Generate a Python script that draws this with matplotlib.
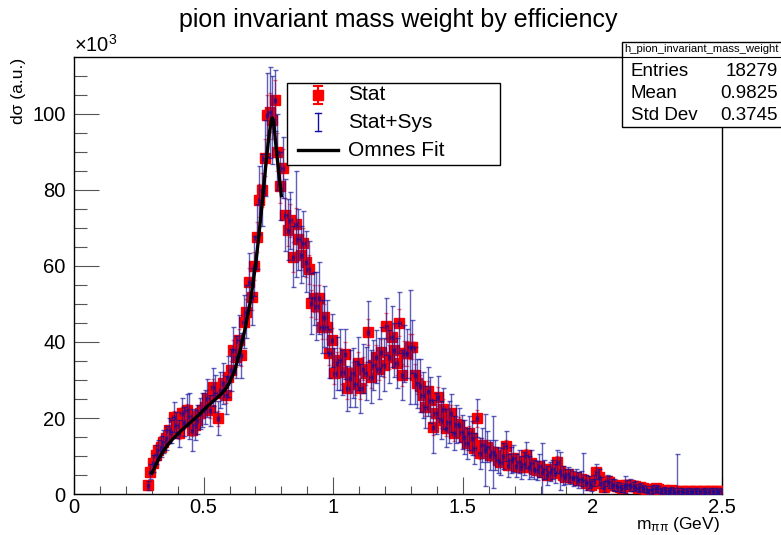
import numpy as np
import matplotlib
matplotlib.use("Agg")
import matplotlib.pyplot as plt
from matplotlib.patches import Rectangle
from matplotlib.lines import Line2D

plt.rcParams['font.family'] = ['Liberation Sans', 'DejaVu Sans']
plt.rcParams['mathtext.fontset'] = 'custom'
plt.rcParams['mathtext.rm'] = 'Liberation Sans'
plt.rcParams['mathtext.it'] = 'Liberation Sans:italic'

# ---- histogram definition (bin width 0.01 GeV, first bin 0.28-0.29) ----
bin_width = 0.01
first_center = 0.285

# ---- counts (x10^3) per bin, rows by 0.1 GeV ----
y_028 = [2.3, 5.9]
y_03 = [8.1, 10.3, 11.6, 12.5, 13.8, 14.7, 16.8, 16.4, 20.3, 18.2]
y_04 = [16.0, 21.2, 19.0, 22.1, 20.5, 16.8, 18.2, 19.5, 21.2, 22.1]
y_05 = [23.0, 25.2, 22.0, 28.2, 26.5, 19.9, 27.4, 29.1, 26.0, 30.9]
y_06 = [32.6, 37.9, 36.1, 40.5, 36.5, 45.3, 48.0, 55.9, 51.9, 60.0]
y_07 = [67.7, 77.3, 80.0, 88.5, 99.7, 100.4, 98.4, 103.6, 90.0, 81.1]
y_08 = [85.9, 73.4, 69.5, 72.0, 62.4, 71.0, 67.0, 62.9, 66.0, 61.1]
y_09 = [59.1, 50.2, 51.5, 49.5, 51.5, 44.0, 46.7, 44.0, 37.0, 40.5]
y_10 = [31.8, 34.4, 35.3, 32.0, 36.8, 27.8, 30.5, 31.8, 29.0, 34.4]
y_11 = [27.8, 33.0, 31.8, 42.7, 30.9, 34.0, 36.1, 33.0, 37.5, 34.0]
y_12 = [44.2, 36.1, 41.4, 37.9, 34.5, 45.1, 31.3, 37.0, 37.0, 38.8]
y_13 = [38.8, 31.2, 29.1, 28.5, 26.0, 23.0, 27.0, 24.7, 17.7, 21.2]
y_14 = [25.6, 19.5, 22.5, 17.3, 19.0, 21.2, 16.0, 18.5, 18.2, 16.4]
y_15 = [15.0, 13.3, 16.0, 14.7, 12.0, 19.9, 10.7, 13.0, 11.6, 12.5]
y_16 = [10.3, 11.0, 10.3, 9.0, 8.5, 10.0, 12.6, 7.6, 9.0, 9.4]
y_17 = [7.5, 8.5, 7.0, 8.0, 10.3, 7.0, 8.1, 6.5, 6.3, 7.5]
y_18 = [5.9, 6.5, 5.0, 5.9, 6.5, 5.5, 8.5, 6.0, 5.0, 4.6]
y_19 = [5.2, 4.6, 4.1, 4.5, 3.7, 4.0, 3.7, 3.0, 3.2, 2.4]
y_20 = [3.5, 5.9, 4.5, 3.0, 1.9, 3.5, 3.2, 2.5, 2.4, 2.0]
y_21 = [1.8, 1.5, 2.5, 2.4, 2.4, 2.0, 2.2, 1.6, 1.9, 1.5]
y_22 = [1.2, 0.6, 1.0, 1.3, 1.5, 1.2, 0.9, 1.1, 0.9, 0.8]
y_23 = [1.0, 0.7, 0.6, 0.9, 0.7, 0.6, 0.8, 0.7, 0.6, 0.9]
y_24 = [0.7, 0.6, 0.8, 0.7, 0.6, 0.8, 0.9, 0.7, 0.6, 0.8]

# ---- statistical errors (x10^3) ----
s_028 = [0.8, 1.0]
s_03 = [1.0, 1.1, 1.2, 1.2, 1.3, 1.3, 1.4, 1.4, 1.5, 1.5]
s_04 = [1.5, 1.6, 1.6, 1.7, 1.6, 1.6, 1.7, 1.7, 1.8, 1.8]
s_05 = [1.9, 1.9, 1.9, 2.1, 2.0, 1.9, 2.1, 2.2, 2.1, 2.3]
s_06 = [2.4, 2.6, 2.6, 2.8, 2.7, 3.0, 3.2, 3.5, 3.4, 3.7]
s_07 = [4.0, 4.4, 4.5, 4.8, 5.2, 5.2, 5.1, 5.4, 5.0, 4.6]
s_08 = [4.8, 4.4, 4.2, 4.3, 4.0, 4.3, 4.1, 3.9, 4.0, 3.9]
s_09 = [3.8, 3.5, 3.6, 3.5, 3.6, 3.3, 3.4, 3.3, 3.0, 3.2]
s_10 = [2.9, 3.0, 3.1, 3.0, 3.2, 2.8, 2.9, 3.0, 2.9, 3.1]
s_11 = [2.8, 3.0, 3.0, 3.4, 2.9, 3.1, 3.2, 3.0, 3.2, 3.1]
s_12 = [3.5, 3.2, 3.4, 3.2, 3.1, 3.5, 2.9, 3.2, 3.2, 3.3]
s_13 = [3.3, 2.9, 2.8, 2.7, 2.6, 2.5, 2.7, 2.5, 2.2, 2.4]
s_14 = [2.5, 2.2, 2.4, 2.1, 2.2, 2.3, 2.0, 2.1, 2.1, 2.0]
s_15 = [1.9, 1.8, 2.0, 1.9, 1.7, 2.2, 1.6, 1.8, 1.7, 1.7]
s_16 = [1.6, 1.6, 1.6, 1.5, 1.4, 1.5, 1.7, 1.3, 1.4, 1.5]
s_17 = [1.3, 1.4, 1.3, 1.4, 1.5, 1.3, 1.4, 1.2, 1.2, 1.3]
s_18 = [1.2, 1.2, 1.1, 1.2, 1.2, 1.1, 1.4, 1.2, 1.1, 1.0]
s_19 = [1.1, 1.0, 1.0, 1.0, 0.9, 1.0, 0.9, 0.8, 0.9, 0.8]
s_20 = [0.9, 1.2, 1.0, 0.8, 0.7, 0.9, 0.9, 0.8, 0.8, 0.7]
s_21 = [0.7, 0.6, 0.8, 0.8, 0.8, 0.7, 0.7, 0.6, 0.7, 0.6]
s_22 = [0.5, 0.4, 0.5, 0.5, 0.6, 0.5, 0.5, 0.5, 0.5, 0.4]
s_23 = [0.5, 0.4, 0.4, 0.5, 0.4, 0.4, 0.4, 0.4, 0.4, 0.5]
s_24 = [0.4, 0.4, 0.4, 0.4, 0.4, 0.4, 0.5, 0.4, 0.4, 0.4]

# ---- stat+sys errors (x10^3) ----
t_028 = [1.2, 2.0]
t_03 = [2.2, 2.5, 2.6, 2.8, 3.0, 3.2, 3.3, 3.0, 4.0, 3.5]
t_04 = [3.5, 4.0, 3.8, 4.2, 6.0, 5.5, 4.0, 3.8, 4.0, 4.5]
t_05 = [4.5, 5.0, 4.0, 5.0, 4.8, 4.5, 4.8, 5.5, 5.0, 5.5]
t_06 = [5.5, 6.0, 5.5, 6.5, 6.0, 7.0, 7.0, 7.5, 7.5, 8.0]
t_07 = [8.5, 9.0, 9.5, 10.0, 11.0, 12.0, 11.5, 8.0, 10.0, 9.0]
t_08 = [8.0, 9.5, 8.0, 7.5, 8.0, 14.0, 8.0, 7.5, 8.5, 8.0]
t_09 = [7.5, 8.0, 7.0, 9.0, 9.5, 7.0, 8.0, 7.0, 6.5, 7.0]
t_10 = [6.5, 7.0, 8.0, 6.0, 6.5, 6.0, 7.5, 6.5, 6.0, 7.0]
t_11 = [6.5, 6.5, 7.0, 8.0, 7.0, 6.5, 7.0, 8.0, 6.5, 7.0]
t_12 = [7.5, 7.0, 8.0, 7.0, 6.5, 8.0, 6.5, 7.5, 6.5, 15.0]
t_13 = [7.0, 7.5, 6.5, 7.0, 6.0, 5.5, 6.5, 6.0, 7.0, 5.5]
t_14 = [5.5, 5.0, 5.5, 5.0, 5.5, 5.0, 4.5, 5.0, 4.5, 4.5]
t_15 = [4.5, 4.0, 4.5, 4.5, 4.0, 5.0, 4.0, 4.5, 9.5, 4.0]
t_16 = [4.0, 9.5, 4.0, 3.5, 3.5, 3.5, 4.0, 3.0, 3.5, 3.5]
t_17 = [3.0, 3.0, 3.0, 3.0, 3.5, 3.0, 3.5, 2.5, 2.5, 3.0]
t_18 = [7.5, 2.5, 2.5, 2.5, 2.5, 2.5, 3.0, 5.0, 2.5, 2.0]
t_19 = [2.0, 2.0, 2.0, 2.0, 2.0, 2.0, 7.0, 2.0, 1.5, 1.5]
t_20 = [1.5, 2.0, 2.0, 1.5, 1.5, 1.5, 1.5, 1.5, 1.5, 1.2]
t_21 = [1.2, 1.0, 2.3, 1.2, 1.5, 1.2, 1.2, 1.0, 1.0, 1.0]
t_22 = [1.0, 0.8, 1.0, 1.0, 1.0, 1.0, 0.8, 0.8, 0.8, 0.8]
t_23 = [0.8, 0.8, 10.0, 0.8, 0.8, 0.8, 0.8, 0.8, 0.8, 0.8]
t_24 = [0.8, 0.8, 0.8, 0.8, 0.8, 0.8, 0.8, 0.8, 0.8, 0.8]

# ---- Omnes fit curve (x10^3) ----
fit_x = [0.30, 0.31, 0.32, 0.33, 0.34, 0.35, 0.36, 0.37, 0.38, 0.39, 0.40,
         0.42, 0.44, 0.46, 0.48, 0.50, 0.52, 0.54, 0.56, 0.58, 0.60, 0.62,
         0.64, 0.66, 0.68, 0.70, 0.71, 0.72, 0.73, 0.74, 0.75, 0.76, 0.765,
         0.77, 0.78, 0.79, 0.80]
fit_y = [5.5, 6.8, 8.3, 9.6, 10.8, 11.8, 12.8, 13.6, 14.4, 15.1, 15.8,
         17.1, 18.3, 19.5, 20.7, 22.1, 23.4, 24.6, 25.8, 27.2, 29.3, 32.5,
         37.5, 43.5, 50.5, 60.0, 66.0, 72.5, 79.5, 86.5, 93.0, 98.0, 99.0,
         98.0, 91.0, 84.5, 78.5]

# ---- stats box text ----
hist_name = "h_pion_invariant_mass_weight"
stat_labels = ["Entries", "Mean", "Std Dev"]
stat_values = ["18279", "0.9825", "0.3745"]

counts = np.array(y_028 + y_03 + y_04 + y_05 + y_06 + y_07 + y_08 + y_09 + y_10 + y_11 + y_12
                  + y_13 + y_14 + y_15 + y_16 + y_17 + y_18 + y_19 + y_20 + y_21 + y_22 + y_23 + y_24)
stat_err = np.array(s_028 + s_03 + s_04 + s_05 + s_06 + s_07 + s_08 + s_09 + s_10 + s_11 + s_12
                    + s_13 + s_14 + s_15 + s_16 + s_17 + s_18 + s_19 + s_20 + s_21 + s_22 + s_23 + s_24)
tot_err = np.array(t_028 + t_03 + t_04 + t_05 + t_06 + t_07 + t_08 + t_09 + t_10 + t_11 + t_12
                   + t_13 + t_14 + t_15 + t_16 + t_17 + t_18 + t_19 + t_20 + t_21 + t_22 + t_23 + t_24)
centers = first_center + bin_width * np.arange(len(counts))

W, H = 781, 535
fig = plt.figure(figsize=(W / 100, H / 100), dpi=100)
ax = fig.add_axes([74 / W, 1 - 494 / H, (722 - 74) / W, (494 - 57) / H])

red = '#ff0000'
blue = '#1010a0'
FS = 14.5

# Stat: red squares with red error bars
ax.errorbar(centers, counts, yerr=stat_err, fmt='s', color=red, ms=7.0, mec=red, mfc=red,
            ecolor=(1, 0, 0, 0.55), elinewidth=1.0, capsize=1.6, capthick=1.0, zorder=3)
# Stat+Sys: blue error bars (with x extent of bin)
ax.errorbar(centers, counts, yerr=tot_err, xerr=bin_width / 2, fmt='none',
            ecolor=(0.05, 0.05, 0.6, 0.65), elinewidth=1.0, capsize=1.8, capthick=1.0, zorder=4)
# Fit
ax.plot(fit_x, fit_y, color='black', lw=2.4, zorder=5)

ax.set_xlim(0, 2.5)
ax.set_ylim(0, 115)
ax.set_xticks([0, 0.5, 1, 1.5, 2, 2.5])
ax.set_xticklabels(['0', '0.5', '1', '1.5', '2', '2.5'])
ax.set_xticks(np.arange(0, 2.51, 0.1), minor=True)
ax.set_yticks([0, 20, 40, 60, 80, 100])
ax.set_yticks(np.arange(0, 115, 5), minor=True)
ax.tick_params(axis='both', which='both', direction='in', labelsize=FS, color='#555555')
ax.tick_params(axis='x', which='major', length=12, width=0.8, pad=3)
ax.tick_params(axis='x', which='minor', length=6, width=0.8)
ax.tick_params(axis='y', which='major', length=18, width=0.8, pad=6)
ax.tick_params(axis='y', which='minor', length=9, width=0.8)
for sp in ax.spines.values():
    sp.set_linewidth(1.0)
    sp.set_color('black')

ax.text(0.0, 1.002, r'$\times$10$^{3}$', transform=ax.transAxes, fontsize=FS,
        ha='left', va='bottom')

fig.text(398 / W, 1 - 20 / H, "pion invariant mass weight by efficiency", fontsize=18,
         ha='center', va='center')
fig.text(720 / W, 1 - 525 / H, r"m$_{\mathregular{ππ}}$ (GeV)", fontsize=12.5, ha='right', va='center')
fig.text(18 / W, 1 - 58 / H, "dσ (a.u.)", fontsize=12.5, rotation=90, ha='center', va='top')

# Legend
lx0, ly0, lx1, ly1 = 287, 83, 500, 165
fig.patches.append(Rectangle((lx0 / W, 1 - ly1 / H), (lx1 - lx0) / W, (ly1 - ly0) / H,
                             transform=fig.transFigure, facecolor='white', edgecolor='black',
                             lw=1.0, zorder=10))
leg_rows = [95, 122, 150]
leg_labels = ["Stat", "Stat+Sys", "Omnes Fit"]
for yy, lab in zip(leg_rows, leg_labels):
    fig.text(348 / W, 1 - yy / H, lab, fontsize=15, ha='left', va='center', zorder=11)
mx = 318 / W
# Stat entry
y0 = 1 - 95 / H
fig.lines.append(Line2D([mx], [y0], marker='s', ms=7.5, color=red, transform=fig.transFigure, zorder=11))
fig.lines.append(Line2D([mx, mx], [y0 - 9 / H, y0 + 9 / H], color=red, lw=1.5, transform=fig.transFigure, zorder=11))
for dy in (-9, 9):
    fig.lines.append(Line2D([mx - 4 / W, mx + 4 / W], [y0 + dy / H] * 2, color=red, lw=1.5,
                            transform=fig.transFigure, zorder=11))
# Stat+Sys entry
y1 = 1 - 122 / H
fig.lines.append(Line2D([mx, mx], [y1 - 9 / H, y1 + 9 / H], color=blue, lw=1.0, transform=fig.transFigure, zorder=11))
for dy in (-9, 9):
    fig.lines.append(Line2D([mx - 3 / W, mx + 3 / W], [y1 + dy / H] * 2, color=blue, lw=1.0,
                            transform=fig.transFigure, zorder=11))
# Fit entry
y2 = 1 - 150 / H
fig.lines.append(Line2D([298 / W, 338 / W], [y2, y2], color='black', lw=2.4, transform=fig.transFigure, zorder=11))

# Stats box
bx0, by0, by1, bhd = 622, 42, 127, 57
fig.patches.append(Rectangle((bx0 / W, 1 - by1 / H), (W + 5 - bx0) / W, (by1 - by0) / H,
                             transform=fig.transFigure, facecolor='white', edgecolor='black',
                             lw=1.0, zorder=10, clip_on=False))
fig.lines.append(Line2D([bx0 / W, 1.0], [1 - bhd / H] * 2, color='black', lw=0.8,
                        transform=fig.transFigure, zorder=11))
fig.text((bx0 + 2) / W, 1 - 49.5 / H, hist_name, fontsize=8.1, ha='left', va='center', zorder=11)
for i, (lab, val) in enumerate(zip(stat_labels, stat_values)):
    yy = 1 - (71 + 22 * i) / H
    fig.text(631 / W, yy, lab, fontsize=13.5, ha='left', va='center', zorder=11)
    fig.text(778 / W, yy, val, fontsize=13.5, ha='right', va='center', zorder=11)

fig.savefig("out.png", dpi=100)
